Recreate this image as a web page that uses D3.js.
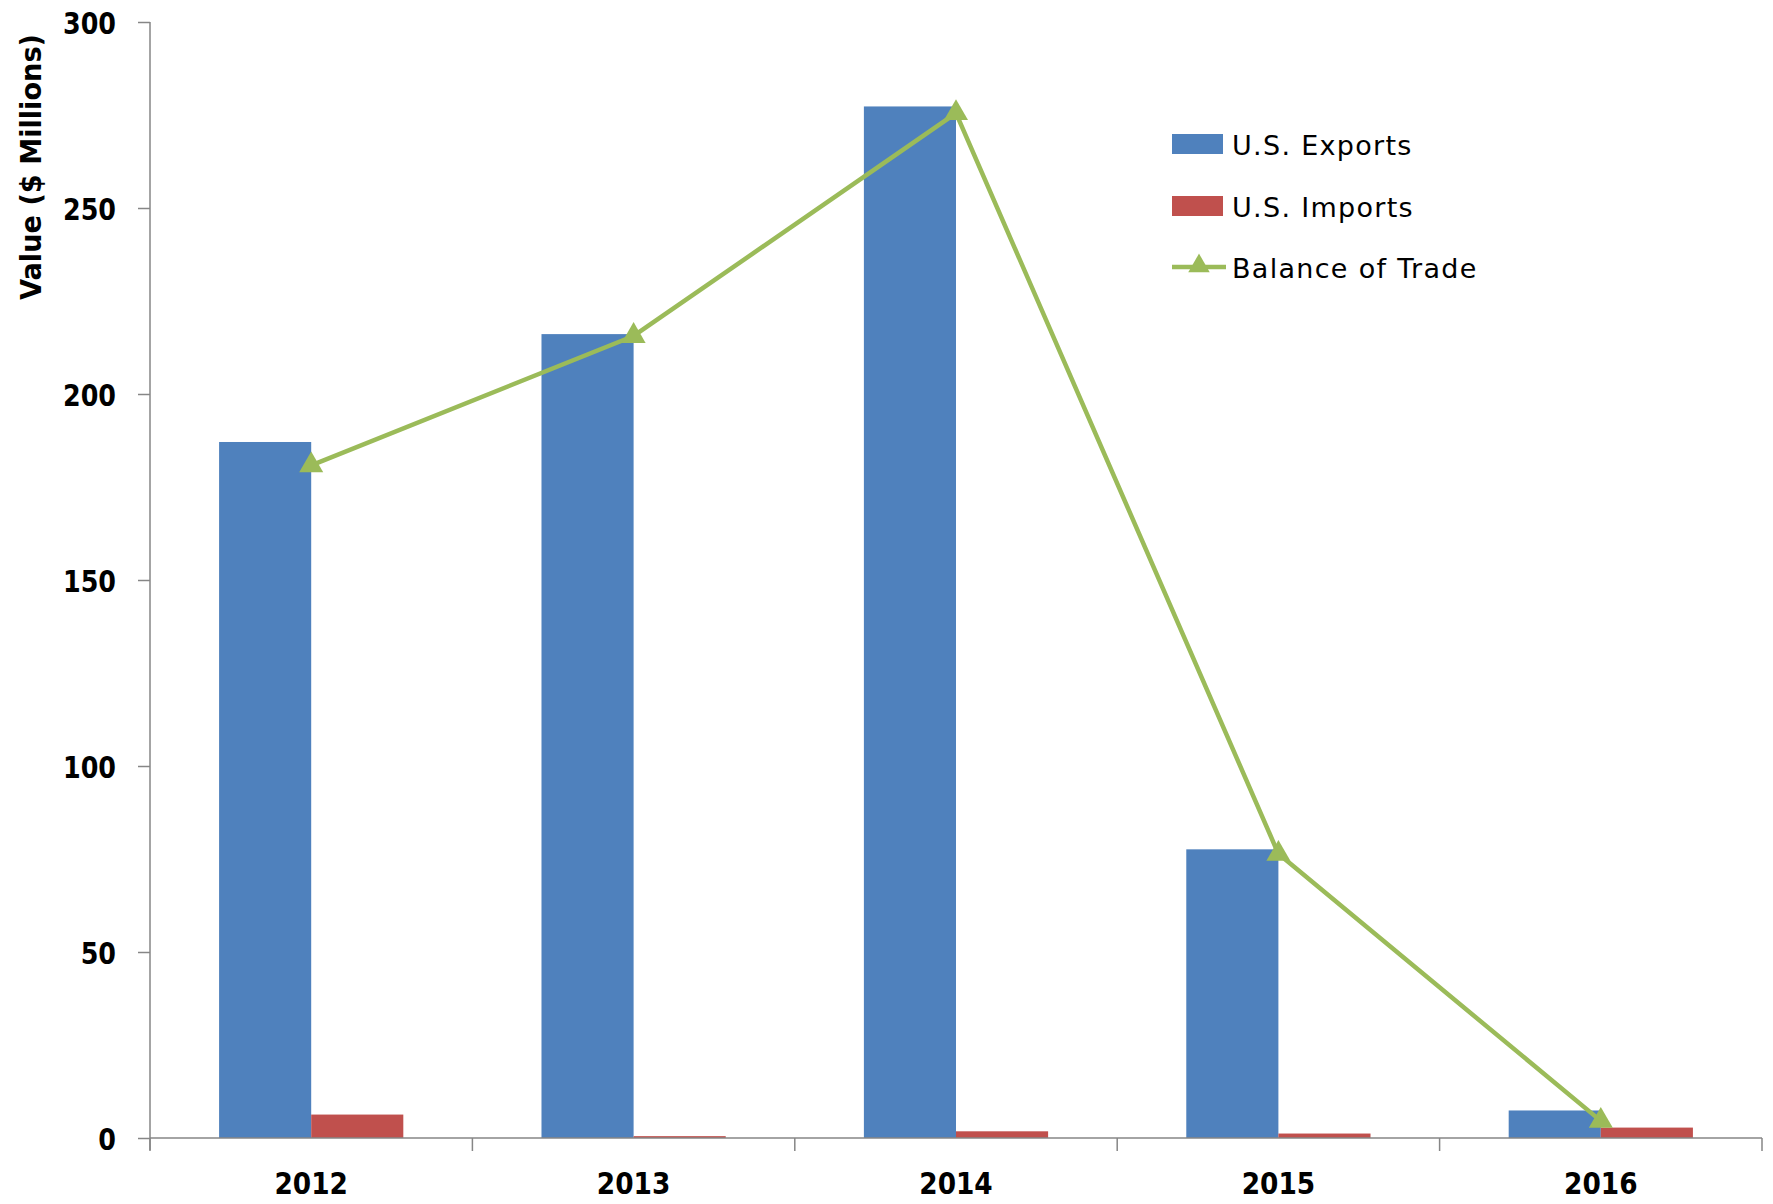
<!DOCTYPE html>
<html>
<head>
<meta charset="utf-8">
<script src="https://cdn.jsdelivr.net/npm/d3@7"></script>
<style>
  html, body { margin: 0; padding: 0; background: #fff; }
  svg { display: block; font-family: "DejaVu Sans", sans-serif; }
</style>
</head>
<body>
<svg id="chart" width="1773" height="1204"></svg>
<script>
const years = ["2012", "2013", "2014", "2015", "2016"];
const exportsVals = [187.1, 216.1, 277.3, 77.6, 7.4];
const importsVals = [6.3, 0.5, 1.8, 1.2, 2.8];
const balanceVals = [180.8, 215.6, 275.5, 76.4, 4.6];
const yTicks = [0, 50, 100, 150, 200, 250, 300];
const legendLabels = ["U.S. Exports", "U.S. Imports", "Balance of Trade"];

const colors = { exp: "#4F81BD", imp: "#C0504D", bal: "#9BBB59", axis: "#868686" };

const svg = d3.select("#chart");
const x0 = 150, x1 = 1762, yTop = 22, yBot = 1138;

const x = d3.scaleBand().domain(years).range([x0, x1]).paddingInner(0).paddingOuter(0);
const y = d3.scaleLinear().domain([0, 300]).range([yBot, yTop]);
const barW = x.bandwidth() / 3.5;
const cx = d => x(d) + x.bandwidth() / 2;

// bars
svg.append("g").selectAll("rect").data(years).join("rect")
  .attr("x", d => cx(d) - barW).attr("width", barW)
  .attr("y", (d, i) => y(exportsVals[i])).attr("height", (d, i) => y(0) - y(exportsVals[i]))
  .attr("fill", colors.exp);
svg.append("g").selectAll("rect").data(years).join("rect")
  .attr("x", d => cx(d)).attr("width", barW)
  .attr("y", (d, i) => y(importsVals[i])).attr("height", (d, i) => y(0) - y(importsVals[i]))
  .attr("fill", colors.imp);

// y axis
const yAxis = d3.axisLeft(y).tickValues(yTicks).tickSize(12).tickPadding(22).tickFormat(d3.format("d"));
const gy = svg.append("g").attr("transform", `translate(${x0},0)`).call(yAxis);
gy.select(".domain").attr("stroke", colors.axis).attr("stroke-width", 1.5).attr("d", `M0,${yTop}V${yBot + 12}`);
gy.selectAll(".tick line").attr("stroke", colors.axis).attr("stroke-width", 1.5);
gy.selectAll(".tick text").attr("fill", "#000").attr("font-size", 31).attr("font-weight", "bold")
  .attr("font-family", "DejaVu Sans")
  .attr("x", 0).attr("dy", "0.36em")
  .attr("transform", "translate(-34,0) scale(0.82,1)");

// x axis
const gx = svg.append("g");
gx.append("line").attr("x1", x0).attr("x2", x1).attr("y1", yBot).attr("y2", yBot)
  .attr("stroke", colors.axis).attr("stroke-width", 1.5);
const bounds = years.map(d => x(d)).concat([x1]);
gx.selectAll("line.tk").data(bounds).join("line").attr("class", "tk")
  .attr("x1", d => d).attr("x2", d => d).attr("y1", yBot).attr("y2", yBot + 13)
  .attr("stroke", colors.axis).attr("stroke-width", 1.5);
gx.selectAll("text").data(years).join("text")
  .attr("transform", d => `translate(${cx(d)},1194) scale(0.88,1)`).attr("text-anchor", "middle")
  .attr("font-size", 30).attr("font-weight", "bold").text(d => d);

// y title
svg.append("text").attr("transform", "translate(41,167) rotate(-90)")
  .attr("text-anchor", "middle").attr("font-size", 28).attr("font-weight", "bold")
  .attr("textLength", 266).attr("lengthAdjust", "spacingAndGlyphs")
  .text("Value ($ Millions)");

// balance line
const line = d3.line().x((d, i) => cx(years[i])).y(d => y(d));
svg.append("path").datum(balanceVals).attr("d", line)
  .attr("fill", "none").attr("stroke", colors.bal).attr("stroke-width", 4.5).attr("stroke-linejoin", "round");
const tri = d3.symbol().type(d3.symbolTriangle).size(250);
svg.append("g").selectAll("path").data(balanceVals).join("path")
  .attr("d", tri).attr("transform", (d, i) => `translate(${cx(years[i])},${y(d)})`)
  .attr("fill", colors.bal);

// legend
const lg = svg.append("g");
const lx = 1172, ly = [144, 206, 267];
lg.append("rect").attr("x", lx).attr("y", ly[0] - 10).attr("width", 51).attr("height", 20).attr("fill", colors.exp);
lg.append("rect").attr("x", lx).attr("y", ly[1] - 10).attr("width", 51).attr("height", 20).attr("fill", colors.imp);
lg.append("line").attr("x1", lx).attr("x2", lx + 54).attr("y1", ly[2]).attr("y2", ly[2])
  .attr("stroke", colors.bal).attr("stroke-width", 4.5);
lg.append("path").attr("d", d3.symbol().type(d3.symbolTriangle).size(200))
  .attr("transform", `translate(${lx + 27},${ly[2] - 1})`).attr("fill", colors.bal);
lg.selectAll("text").data(legendLabels).join("text")
  .attr("x", 1232).attr("y", (d, i) => ly[i] + 11)
  .attr("font-size", 27).attr("letter-spacing", "1.3px").attr("fill", "#000").text(d => d);
</script>
</body>
</html>
